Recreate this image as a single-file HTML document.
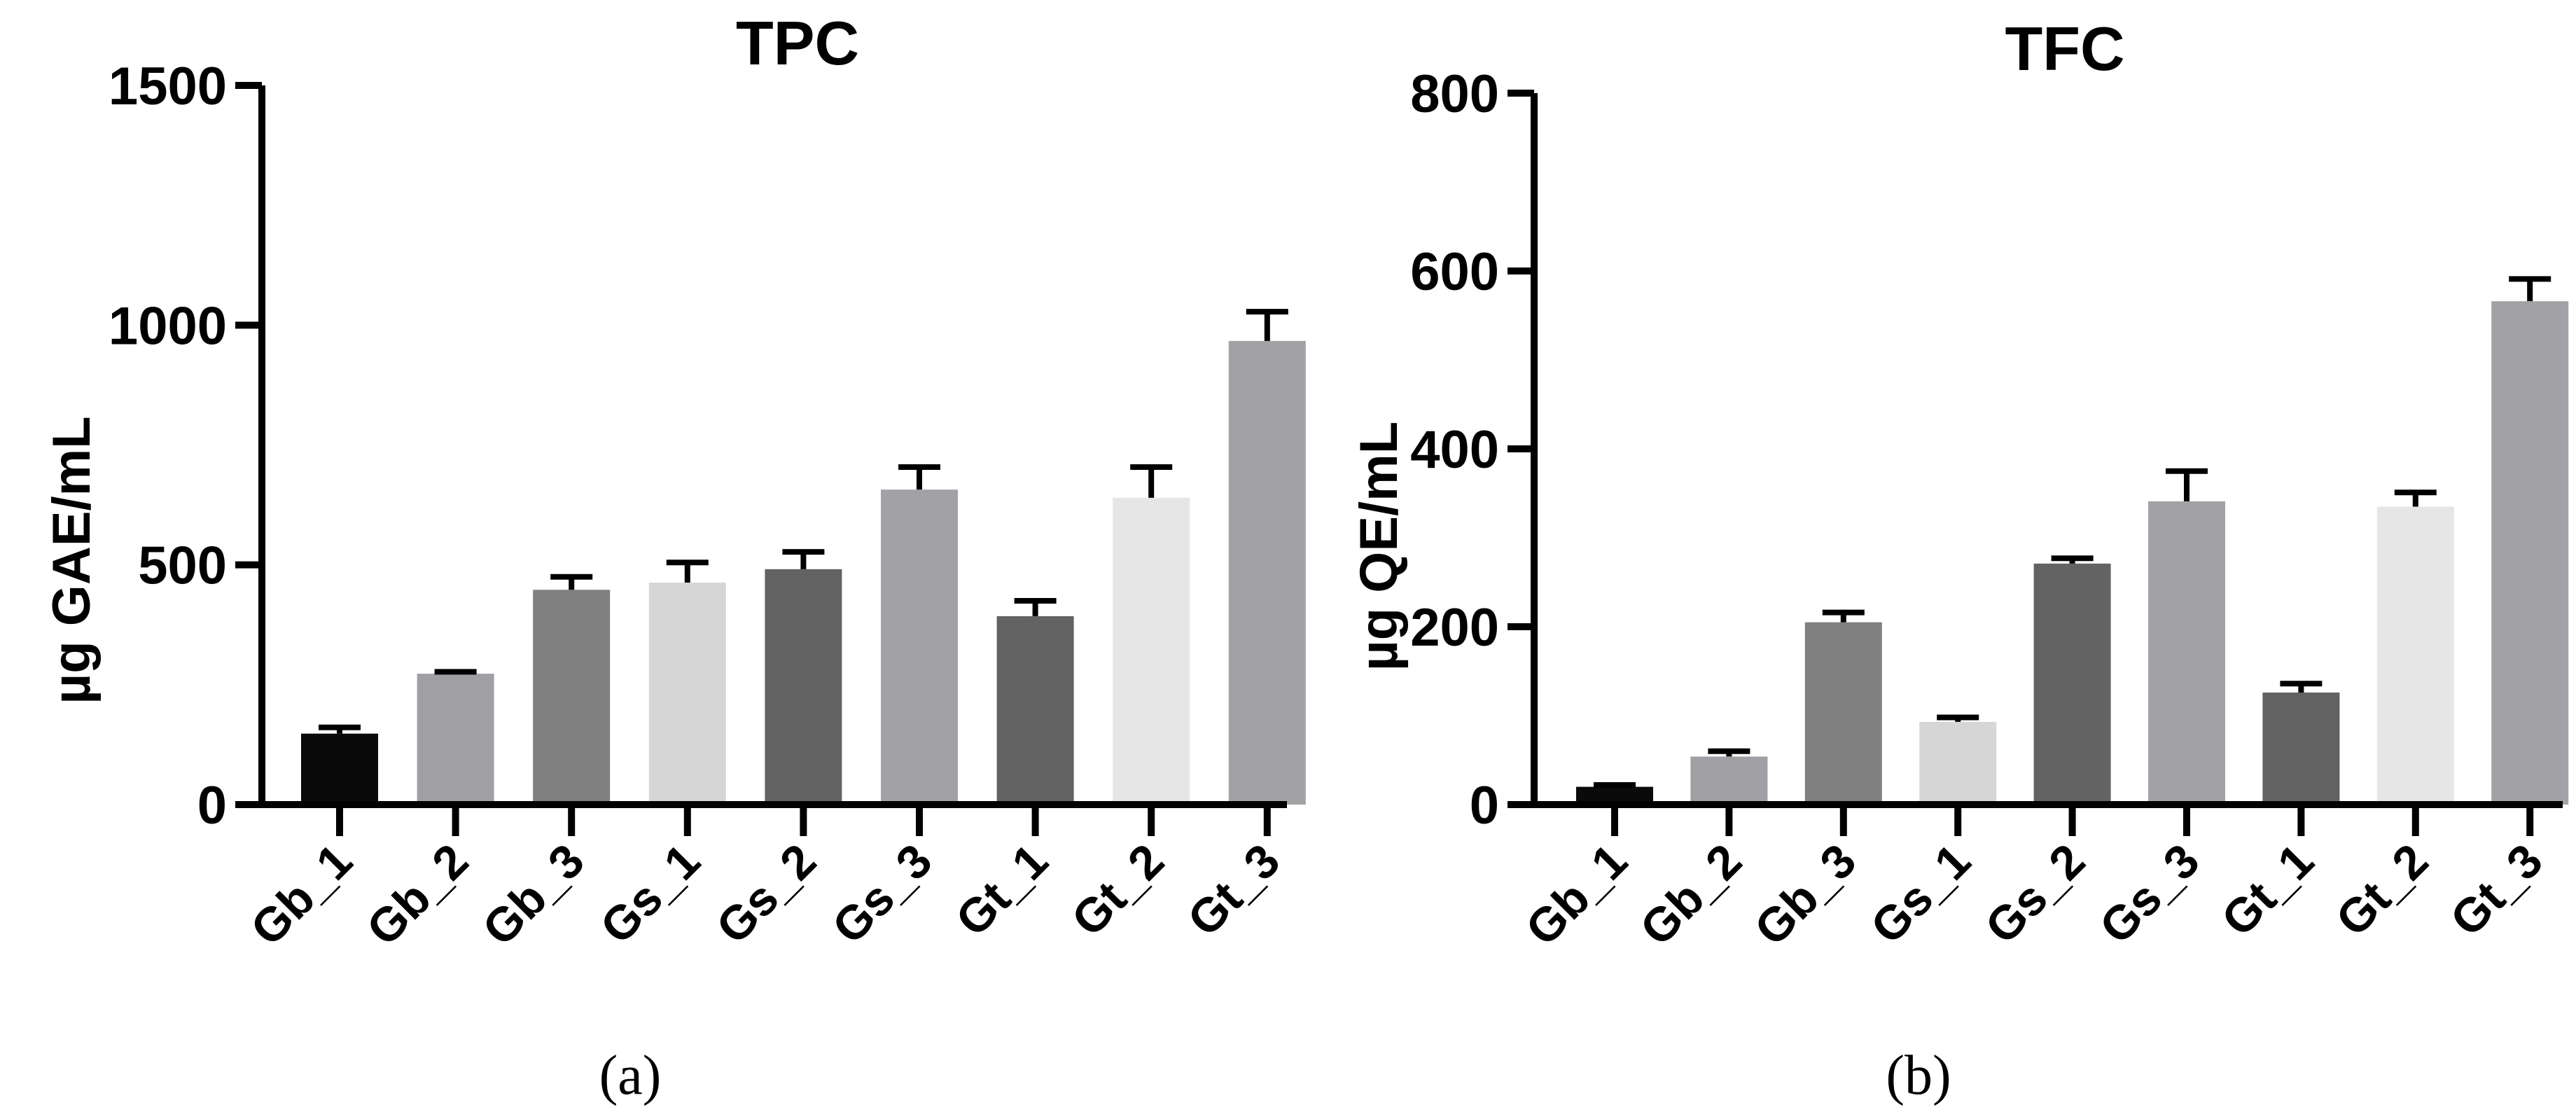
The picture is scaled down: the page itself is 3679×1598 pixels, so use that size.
<!DOCTYPE html>
<html><head><meta charset="utf-8"><style>
html,body{margin:0;padding:0;background:#fff;}
svg{display:block;font-family:"Liberation Sans",Arial,sans-serif;}
</style></head><body>
<svg id="fig" width="3679" height="1598" viewBox="0 0 3679 1598" xmlns="http://www.w3.org/2000/svg">
<rect width="3679" height="1598" fill="#fff"/>
</svg>
<script>
const categories = ["Gb_1","Gb_2","Gb_3","Gs_1","Gs_2","Gs_3","Gt_1","Gt_2","Gt_3"];
const barColors = ["#0a0a0a","#a0a0a4","#808080","#d6d6d6","#636363","#a2a2a6","#626262","#e6e6e6","#a2a2a6"];
const tpcValues = [148,273,448,463,491,657,393,640,967];
const tpcErrors = [13,4,27,42,36,47,32,64,61];
const tpcTicks = [0,500,1000,1500];
const tfcValues = [20,54,205,93,271,341,126,335,566];
const tfcErrors = [2,6,11,5,6,34,10,16,25];
const tfcTicks = [0,200,400,600,800];

const NS = "http://www.w3.org/2000/svg";
const svg = document.getElementById("fig");
function mk(tag, attrs, parent){
  const e = document.createElementNS(NS, tag);
  for (const k in attrs) e.setAttribute(k, attrs[k]);
  (parent||svg).appendChild(e);
  return e;
}

function drawChart(cfg){
  const g = mk("g", {});
  
  
  const yScale = v => cfg.y0 - v / cfg.ymax * (cfg.y0 - cfg.yTop);
  const xScale = i => cfg.firstX + i * cfg.step;
  cfg.values.forEach((v,i)=>{
    const cx = xScale(i);
    const top = yScale(v);
    const r = mk("rect", {x: cx - cfg.barW/2, y: top, width: cfg.barW, height: cfg.y0 - top, fill: barColors[i]}, g);
    
    
    const et = yScale(v + cfg.errors[i]);
    const el = mk("path", {d: `M${cx} ${top} V${et} M${cx-30} ${et} H${cx+30}`, stroke:"#000", "stroke-width":8, fill:"none"}, g);
    
    
  });
  const ya = mk("line", {x1: cfg.axisX, y1: cfg.yTop, x2: cfg.axisX, y2: cfg.y0 + 5, stroke:"#000", "stroke-width":10}, g);
  
  
  const xa = mk("line", {x1: cfg.axisX - 5, y1: cfg.y0, x2: cfg.axisEnd, y2: cfg.y0, stroke:"#000", "stroke-width":10}, g);
  
  
  cfg.ticks.forEach(t=>{
    const y = yScale(t);
    const tl = mk("line", {x1: cfg.axisX - 38, y1: y, x2: cfg.axisX, y2: y, stroke:"#000", "stroke-width":10}, g);
    
    
    const tx = mk("text", {x: cfg.axisX - 50, y: y + 27, "text-anchor":"end", "font-size":76, "font-weight":"bold"}, g);
    tx.textContent = t;
    
    
  });
  categories.forEach((c,i)=>{
    const cx = xScale(i);
    const tl = mk("line", {x1: cx, y1: cfg.y0, x2: cx, y2: cfg.y0 + 45, stroke:"#000", "stroke-width":10}, g);
    
    
    const ty = cfg.y0 + 85;
    const tx = mk("text", {x: cx + 22, y: ty, "text-anchor":"end", "font-size":68, "font-weight":"bold", transform:`rotate(-45 ${cx+22} ${ty})`}, g);
    tx.textContent = c;
    
    
  });
  const title = mk("text", {x: cfg.titleX, y: cfg.titleY, "text-anchor":"middle", "font-size":88, "font-weight":"bold"}, g);
  title.textContent = cfg.title;
  
  
  const yt = mk("text", {x: cfg.ytX, y: cfg.ytY, "text-anchor":"middle", "font-size":76, "font-weight":"bold", transform:`rotate(-90 ${cfg.ytX} ${cfg.ytY})`}, g);
  yt.textContent = cfg.yTitle;
  
  
  const cap = mk("text", {x: cfg.capX, y: 1562, "text-anchor":"middle", "font-size":80, "font-family":"Liberation Serif, serif"}, g);
  cap.textContent = cfg.caption;
  
  
}

drawChart({name:"tpc-chart", values:tpcValues, errors:tpcErrors, ticks:tpcTicks, ymax:1500,
  y0:1149, yTop:122, axisX:374, axisEnd:1838, firstX:485, step:165.6, barW:110,
  title:"TPC", titleX:1139, titleY:92, yTitle:"µg GAE/mL", ytX:128, ytY:800, caption:"(a)", capX:900});
drawChart({name:"tfc-chart", values:tfcValues, errors:tfcErrors, ticks:tfcTicks, ymax:800,
  y0:1149, yTop:133, axisX:2191, axisEnd:3660, firstX:2306, step:163.4, barW:110,
  title:"TFC", titleX:2949, titleY:100, yTitle:"µg QE/mL", ytX:1995, ytY:780, caption:"(b)", capX:2740});
</script>
</body></html>
